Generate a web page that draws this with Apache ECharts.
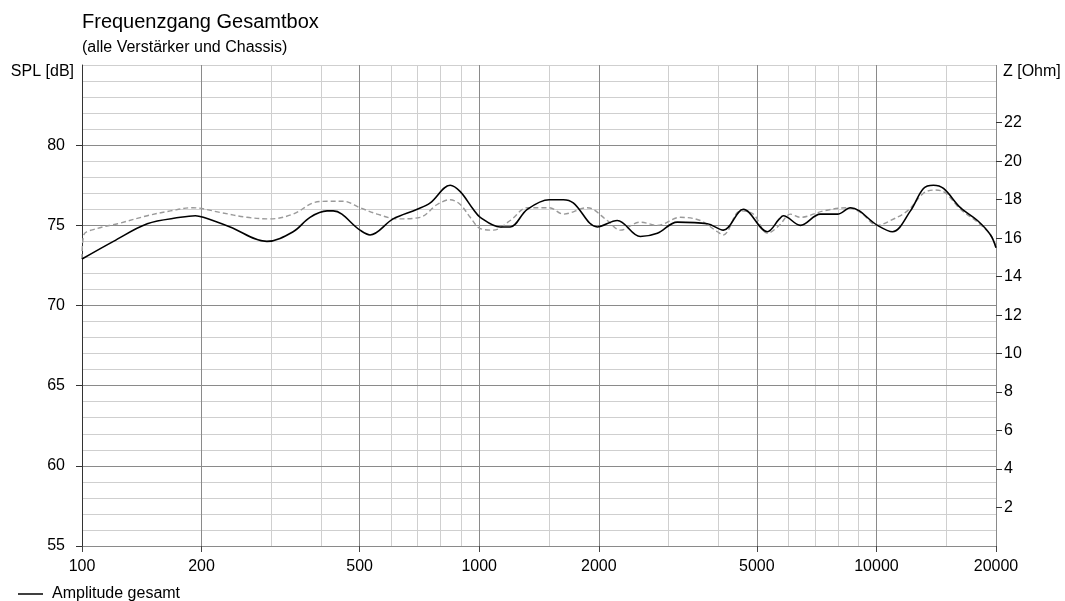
<!DOCTYPE html>
<html>
<head>
<meta charset="utf-8">
<title>Frequenzgang Gesamtbox</title>
<script src="https://cdn.jsdelivr.net/npm/echarts@6/dist/echarts.min.js"></script>
<style>
  html, body { margin: 0; padding: 0; background: #fff; }
  #chart { width: 1065px; height: 601px; }
</style>
</head>
<body>
<div id="chart"></div>
<script>
// Frequenzgang Gesamtbox
const freqTicks = [100, 200, 500, 1000, 2000, 5000, 10000, 20000];
const freqMinor = [300, 400, 600, 700, 800, 900, 1500, 3000, 4000, 6000, 7000, 8000, 9000, 15000];
const splTicks = [55, 60, 65, 70, 75, 80];
const ohmTicks = [2, 4, 6, 8, 10, 12, 14, 16, 18, 20, 22];

// Amplitude gesamt (solid black)
const ampFreq = [100, 120, 146, 177, 193, 202, 236, 292, 340, 375, 414, 429, 501, 531, 607, 698, 753, 845,
  896, 966, 1006, 1129, 1197, 1321, 1501, 1628, 1725, 1983, 2226, 2544, 2808, 3152, 3752, 4117, 4624,
  5313, 5697, 5830, 6436, 7224, 7977, 8602, 10058, 10973, 12178, 13134, 13916, 14752, 16275, 17963, 19379, 20000];
const ampSpl = [72.9, 74.0, 75.1, 75.5, 75.6, 75.5, 74.9, 74.0, 74.6, 75.5, 75.9, 75.9, 74.7, 74.4, 75.4, 76.0, 76.4, 77.5,
  77.1, 76.0, 75.5, 74.9, 74.9, 76.0, 76.6, 76.6, 76.4, 74.9, 75.3, 74.3, 74.5, 75.2, 75.1, 74.7, 76.0,
  74.6, 75.4, 75.6, 75.0, 75.7, 75.7, 76.1, 75.0, 74.6, 75.9, 77.3, 77.5, 77.3, 76.1, 75.3, 74.4, 73.6];

// second curve (grey dashed)
const refFreq = [100, 101, 109, 123, 146, 167, 190, 223, 260, 298, 340, 382, 414, 455, 501, 554, 622, 710, 784, 845,
  896, 949, 1006, 1085, 1197, 1321, 1501, 1628, 1871, 2101, 2266, 2544, 2808, 3208, 3603, 3977, 4117, 4544, 4900,
  5313, 5697, 6073, 6436, 7354, 8453, 9116, 10058, 10847, 11969, 13134, 13916, 14752, 16275, 17963, 19379, 20000];
const refSpl = [72.9, 74.4, 74.8, 75.1, 75.6, 75.9, 76.1, 75.8, 75.5, 75.4, 75.7, 76.4, 76.5, 76.5, 76.1, 75.7, 75.4, 75.5, 76.3, 76.6,
  76.3, 75.5, 74.8, 74.7, 75.3, 76.1, 76.1, 75.7, 76.1, 75.3, 74.7, 75.2, 75.0, 75.5, 75.3, 74.6, 74.4, 75.9, 75.7,
  74.5, 75.0, 75.7, 75.5, 75.9, 76.1, 75.8, 75.0, 75.3, 75.9, 77.0, 77.2, 77.1, 76.0, 75.2, 74.4, 73.7];

const FONT = '"Liberation Sans", Arial, sans-serif';
const MAJOR = '#8a8a8a';
const MINOR = '#cfcfcf';

const chart = echarts.init(document.getElementById('chart'));

chart.setOption({
  backgroundColor: '#fff',
  animation: false,
  textStyle: { fontFamily: FONT, color: '#000' },
  title: {
    text: 'Frequenzgang Gesamtbox',
    subtext: '(alle Verstärker und Chassis)',
    left: 77,
    top: 7,
    itemGap: 8,
    textStyle: { fontFamily: FONT, fontSize: 20, fontWeight: 'normal', color: '#000' },
    subtextStyle: { fontFamily: FONT, fontSize: 16, color: '#000' },
  },
  legend: {
    left: 13,
    top: 581,
    icon: 'rect',
    itemWidth: 25,
    itemHeight: 1.5,
    data: ['Amplitude gesamt'],
    textStyle: { fontFamily: FONT, fontSize: 16, color: '#000', padding: [0, 0, 0, 4] },
  },
  grid: { left: 82, right: 69, top: 65, bottom: 55 },
  xAxis: [
    {
      type: 'log',
      logBase: 10,
      min: 100,
      max: 20000,
      position: 'bottom',
      z: 2,
      axisLine: { lineStyle: { color: MAJOR, width: 1 } },
      axisTick: { customValues: freqTicks, length: 6, lineStyle: { color: '#444' } },
      axisLabel: {
        customValues: freqTicks,
        formatter: (v) => String(v),
        fontFamily: FONT,
        fontSize: 16,
        color: '#000',
        margin: 13,
      },
      splitLine: { show: true, lineStyle: { color: MAJOR, width: 1 } },
    },
    {
      type: 'log',
      logBase: 10,
      min: 100,
      max: 20000,
      position: 'top',
      z: 1,
      axisLine: { show: false },
      axisTick: { show: false, customValues: freqMinor },
      axisLabel: { show: false, customValues: freqMinor },
      splitLine: { show: true, lineStyle: { color: MINOR, width: 1 } },
    },
  ],
  yAxis: [
    {
      type: 'value',
      min: 55,
      max: 85,
      interval: 5,
      position: 'left',
      z: 2,
      name: 'SPL [dB]',
      nameLocation: 'end',
      nameGap: -7,
      nameTextStyle: {
        fontFamily: FONT, fontSize: 16, color: '#000',
        align: 'right', verticalAlign: 'middle', padding: [0, 8, 0, 0],
      },
      axisLine: { show: true, lineStyle: { color: '#333', width: 1 } },
      axisTick: { show: true, customValues: splTicks, length: 6, lineStyle: { color: '#333' } },
      axisLabel: { customValues: splTicks, fontFamily: FONT, fontSize: 16, color: '#000', margin: 17 },
      splitLine: { show: true, lineStyle: { color: MAJOR, width: 1 } },
    },
    {
      type: 'value',
      min: 55,
      max: 85,
      interval: 1,
      position: 'left',
      z: 1,
      axisLine: { show: false },
      axisTick: { show: false },
      axisLabel: { show: false },
      splitLine: { show: true, lineStyle: { color: MINOR, width: 1 } },
    },
    {
      type: 'value',
      min: 0,
      max: 25,
      position: 'right',
      z: 2,
      name: 'Z [Ohm]',
      nameLocation: 'end',
      nameGap: -7,
      nameTextStyle: {
        fontFamily: FONT, fontSize: 16, color: '#000',
        align: 'left', verticalAlign: 'middle', padding: [0, 0, 0, 7],
      },
      axisLine: { show: false },
      axisTick: { show: true, customValues: ohmTicks, length: 6, lineStyle: { color: '#333' } },
      axisLabel: { customValues: ohmTicks, fontFamily: FONT, fontSize: 16, color: '#000', margin: 8 },
      splitLine: { show: false },
    },
  ],
  series: [
    {
      name: 'Referenz',
      type: 'line',
      xAxisIndex: 0,
      yAxisIndex: 0,
      data: refFreq.map((f, i) => [f, refSpl[i]]),
      smooth: 0.35,
      showSymbol: false,
      z: 3,
      lineStyle: { color: '#9a9a9a', width: 1.4, type: [5, 3] },
    },
    {
      name: 'Amplitude gesamt',
      type: 'line',
      xAxisIndex: 0,
      yAxisIndex: 0,
      data: ampFreq.map((f, i) => [f, ampSpl[i]]),
      smooth: 0.35,
      showSymbol: false,
      z: 4,
      itemStyle: { color: '#000' },
      lineStyle: { color: '#000', width: 1.6 },
    },
  ],
});
</script>
</body>
</html>
